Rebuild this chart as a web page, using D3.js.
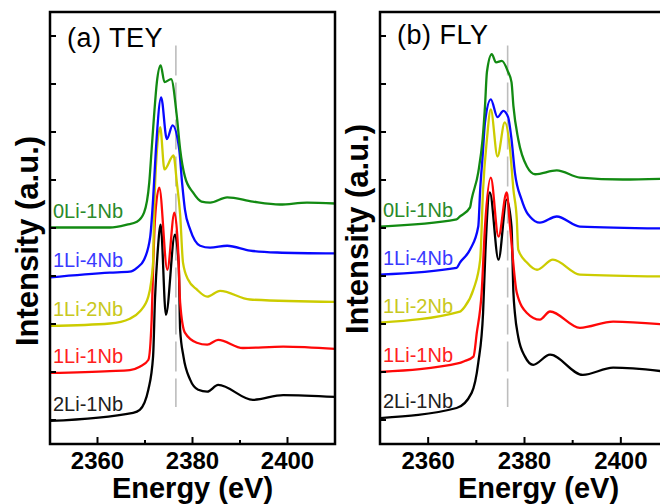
<!DOCTYPE html>
<meta charset="utf-8">
<body style="margin:0; background:#fff;">
<script src="https://d3js.org/d3.v7.min.js"></script>
<svg id="chart" width="660" height="504"></svg>
<script>
// samples, top curve first
var samples = ["0Li-1Nb", "1Li-4Nb", "1Li-2Nb", "1Li-1Nb", "2Li-1Nb"];
var lineColors = ["#128a12", "#0808ff", "#cccc00", "#ff0808", "#000000"];
var labelColors = ["#2a8a2a", "#3a3aff", "#c8c820", "#ff2020", "#202020"];

var xTicks = [2360, 2380, 2400];
var xMinor = [2370, 2390];
var yTicks = [0.5, 1.5, 2.5, 3.5, 4.5, 5.5, 6.5, 7.5, 8.5];
var refEnergy = 2376.5;

// (a) TEY  -- [energy (eV), intensity (offset, a.u.)]
var tey0Li1Nb = [[2350,4.51],[2362.6,4.51],[2366.2,4.57],[2368.3,4.63],[2369.8,4.82],[2370.9,5.45],[2371.4,6.14],[2371.9,6.83],[2372.5,7.54],[2373.3,7.89],[2374.1,7.54],[2375.5,7.60],[2376.7,6.83],[2377.4,6.14],[2378.4,5.57],[2380.1,5.24],[2381.9,5.05],[2383.7,5.03],[2387.3,5.14],[2392.7,5.05],[2398.4,4.99],[2404.1,5.03],[2410,5.01]];
var tey1Li4Nb = [[2350,3.47],[2362.6,3.57],[2366.8,3.59],[2368.3,3.67],[2369.8,3.84],[2371.1,4.32],[2371.7,5.09],[2372.3,6.14],[2373.4,7.22],[2374.6,6.35],[2375.8,6.64],[2377.2,6.14],[2377.8,5.45],[2378.4,4.89],[2379.5,4.47],[2381.6,4.13],[2383.7,4.09],[2387.3,4.13],[2392.1,4.03],[2397.8,3.99],[2410,3.97]];
var tey1Li2Nb = [[2350,2.46],[2362.6,2.51],[2366.8,2.61],[2368.9,2.76],[2370.7,3.07],[2371.7,3.78],[2371.9,4.74],[2372.3,5.78],[2373.2,6.60],[2374.1,5.72],[2376.0,6.01],[2376.7,5.45],[2377.4,4.78],[2378.0,3.78],[2379.1,3.42],[2380.9,3.22],[2383.1,3.07],[2385.8,3.19],[2392.1,3.01],[2410,2.96]];
var tey1Li1Nb = [[2350,1.48],[2362.6,1.52],[2366.8,1.54],[2368.9,1.61],[2370.7,1.75],[2371.4,2.59],[2371.7,3.63],[2372.1,4.68],[2373.0,5.34],[2374.7,3.63],[2376.2,4.82],[2377.0,3.99],[2377.4,2.94],[2378.4,2.32],[2380.9,2.11],[2383.1,2.07],[2385.4,2.17],[2390.6,2.00],[2399.1,2.03],[2410,1.98]];
var tey2Li1Nb = [[2350,0.48],[2367.5,0.65],[2368.9,0.71],[2370.7,1.13],[2371.7,1.82],[2372.1,3.01],[2372.7,4.05],[2373.3,4.57],[2374.4,2.69],[2376.3,4.36],[2377.1,3.74],[2377.4,2.38],[2378.1,1.82],[2379.5,1.34],[2381.2,1.13],[2383.1,1.09],[2385.4,1.23],[2392.7,0.92],[2399.1,1.02],[2410,0.98]];

// (b) FLY
var fly0Li1Nb = [[2350,4.53],[2365.9,4.68],[2366.6,4.74],[2368.7,4.93],[2369.0,5.09],[2370.4,5.66],[2371.3,6.35],[2371.8,7.04],[2372.2,7.75],[2373.2,8.12],[2374.1,7.95],[2375.3,7.98],[2376.6,7.75],[2377.3,7.54],[2377.7,7.04],[2378.7,6.35],[2380.5,5.78],[2382.2,5.62],[2386.7,5.70],[2391.5,5.55],[2400.4,5.51],[2410,5.53]];
var fly1Li4Nb = [[2350,3.53],[2365.9,3.67],[2366.6,3.78],[2368.7,4.05],[2370.4,4.53],[2370.8,5.30],[2371.3,5.99],[2371.8,6.70],[2373.0,7.18],[2374.4,6.81],[2375.6,6.94],[2376.6,6.81],[2377.3,6.35],[2378.0,5.66],[2379.4,5.09],[2380.5,4.82],[2381.1,4.74],[2383.2,4.61],[2386.7,4.74],[2391.5,4.53],[2410,4.49]];
var fly1Li2Nb = [[2350,2.53],[2366.6,2.76],[2367.6,2.86],[2369.4,3.22],[2370.8,3.84],[2371.4,5.30],[2372.2,6.35],[2373.0,6.97],[2374.4,5.99],[2375.9,6.70],[2377.0,6.14],[2377.7,5.30],[2378.4,4.68],[2378.7,4.05],[2380.5,3.78],[2382.6,3.63],[2385.9,3.84],[2391.5,3.53],[2410,3.49]];
var fly1Li1Nb = [[2350,1.50],[2366.6,1.69],[2367.6,1.73],[2369.4,1.82],[2370.1,2.32],[2371.1,3.15],[2371.8,4.53],[2373.0,5.55],[2374.6,4.32],[2376.3,5.24],[2377.0,4.53],[2378.4,3.15],[2380.5,2.73],[2383.2,2.59],[2385.3,2.76],[2391.5,2.42],[2398.4,2.55],[2410,2.48]];
var fly2Li1Nb = [[2350,0.54],[2365.9,0.75],[2369.0,1.06],[2370.4,1.69],[2371.4,2.73],[2371.9,4.05],[2372.8,5.24],[2374.6,3.84],[2376.3,5.09],[2377.3,4.53],[2377.7,3.15],[2378.0,2.73],[2378.7,2.23],[2380.1,1.82],[2381.8,1.65],[2385.3,1.86],[2392.1,1.44],[2398.4,1.59],[2410,1.50]];

var svg = d3.select("#chart");
var font = "'Liberation Sans', Arial, sans-serif";

function drawPanel(id, title, curves, left, right, yLabelY, xLabelShift, titleY)
{
   var top = 12, bottom = 444;
   var x = d3.scaleLinear().domain([2350, 2410]).range([left, right]);
   var y = d3.scaleLinear().domain([0, 9]).range([bottom, top]);

   var g = svg.append("g");

   g.append("clipPath").attr("id", "clip" + id)
      .append("rect").attr("x", left).attr("y", top)
      .attr("width", right - left).attr("height", bottom - top);

   // dashed reference line
   g.append("line")
      .attr("x1", x(refEnergy)).attr("x2", x(refEnergy))
      .attr("y1", y(8.3)).attr("y2", y(0.77))
      .attr("stroke", "#bdbdbd").attr("stroke-width", 1.6)
      .attr("stroke-dasharray", "30,7");

   var line = d3.line()
      .x(function(d){ return x(d[0]); })
      .y(function(d){ return y(d[1]); })
      .curve(d3.curveMonotoneX);

   g.append("g").attr("clip-path", "url(#clip" + id + ")")
      .selectAll("path")
      .data(curves.slice().reverse())
      .enter()
      .append("path")
         .attr("d", line)
         .attr("fill", "none")
         .attr("stroke", function(d, i){ return lineColors[curves.length - 1 - i]; })
         .attr("stroke-width", 2.3)
         .attr("stroke-linejoin", "round");

   // sample labels sit just above each curve's flat start
   g.selectAll("text.sample")
      .data(curves)
      .enter()
      .append("text")
         .attr("class", "sample")
         .attr("x", x(2350) + 3)
         .attr("y", function(d){ return y(d[0][1]) - 10; })
         .attr("fill", function(d, i){ return labelColors[i]; })
         .style("font-family", font)
         .style("font-size", "20px")
         .text(function(d, i){ return samples[i]; });

   // frame
   g.append("rect")
      .attr("x", left).attr("y", top)
      .attr("width", right - left).attr("height", bottom - top)
      .attr("fill", "none").attr("stroke", "#000").attr("stroke-width", 2.5);

   // y ticks (inward, no labels)
   g.selectAll("line.ytick")
      .data(yTicks)
      .enter()
      .append("line")
         .attr("x1", left).attr("x2", left + 6)
         .attr("y1", function(d){ return y(d); })
         .attr("y2", function(d){ return y(d); })
         .attr("stroke", "#000").attr("stroke-width", 2);

   // x ticks
   g.selectAll("line.xmajor")
      .data(xTicks)
      .enter()
      .append("line")
         .attr("x1", function(d){ return x(d); })
         .attr("x2", function(d){ return x(d); })
         .attr("y1", bottom).attr("y2", bottom - 7)
         .attr("stroke", "#000").attr("stroke-width", 2);
   g.selectAll("line.xminor")
      .data(xMinor)
      .enter()
      .append("line")
         .attr("x1", function(d){ return x(d); })
         .attr("x2", function(d){ return x(d); })
         .attr("y1", bottom).attr("y2", bottom - 4)
         .attr("stroke", "#000").attr("stroke-width", 2);

   g.selectAll("text.xlab")
      .data(xTicks)
      .enter()
      .append("text")
         .attr("x", function(d){ return x(d); })
         .attr("y", 469)
         .attr("text-anchor", "middle")
         .style("font-family", font)
         .style("font-size", "24px")
         .style("font-weight", "bold")
         .text(function(d){ return d; });

   g.append("text")
      .attr("x", x(2380) + xLabelShift)
      .attr("y", 498)
      .attr("text-anchor", "middle")
      .style("font-family", font)
      .style("font-size", "29px")
      .style("font-weight", "bold")
      .text("Energy (eV)");

   g.append("text")
      .attr("transform", "translate(" + (left - 12) + "," + yLabelY + ") rotate(-90)")
      .attr("text-anchor", "middle")
      .style("font-family", font)
      .style("font-size", "31px")
      .style("font-weight", "bold")
      .text("Intensity (a.u.)");

   g.append("text")
      .attr("x", left + 17)
      .attr("y", titleY)
      .style("font-family", font)
      .style("font-size", "27px")
      .style("letter-spacing", "0.5px")
      .text(title);
}

drawPanel("a", "(a) TEY", [tey0Li1Nb, tey1Li4Nb, tey1Li2Nb, tey1Li1Nb, tey2Li1Nb], 50, 335, 241, 0, 47);
drawPanel("b", "(b) FLY", [fly0Li1Nb, fly1Li4Nb, fly1Li2Nb, fly1Li1Nb, fly2Li1Nb], 380, 669, 229, 14, 44);
</script>
</body>
